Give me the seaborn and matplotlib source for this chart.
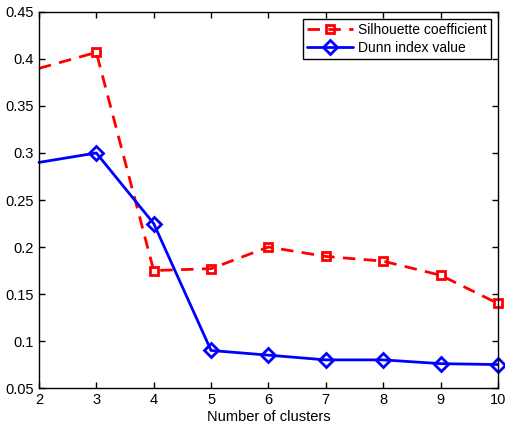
import numpy as np
import pandas as pd
import matplotlib
matplotlib.use("Agg")
import matplotlib.pyplot as plt
import seaborn as sns

# values
clusters = [2, 3, 4, 5, 6, 7, 8, 9, 10]
silhouette = [0.390, 0.407, 0.175, 0.177, 0.200, 0.190, 0.185, 0.170, 0.140]
dunn = [0.290, 0.300, 0.225, 0.090, 0.085, 0.080, 0.080, 0.076, 0.075]

df = pd.DataFrame({"k": clusters, "sil": silhouette, "dunn": dunn})

sns.set_style("ticks")
plt.rcParams["font.family"] = ["Liberation Sans", "DejaVu Sans"]
plt.rcParams["text.color"] = "black"
plt.rcParams["axes.labelcolor"] = "black"

fig = plt.figure(figsize=(5.06, 4.26), dpi=100)
ax = fig.add_axes([0.077, 0.089, 0.907, 0.883])

# first point sits on the axis edge and has no marker in the original
marks = list(range(1, len(clusters)))

sns.lineplot(data=df, x="k", y="sil", ax=ax, color="red", lw=2,
             linestyle="--", dashes=False, marker="s", markersize=6,
             markerfacecolor="none", markeredgecolor="red", markeredgewidth=2,
             markevery=marks, label="Silhouette coefficient")
ax.lines[-1].set_dashes([4.5, 3])
sns.lineplot(data=df, x="k", y="dunn", ax=ax, color="blue", lw=2,
             marker="D", markersize=7, markerfacecolor="none",
             markeredgecolor="blue", markeredgewidth=2,
             markevery=marks, label="Dunn index value")

for ln in ax.lines:
    ln.set_clip_on(False)

ax.set_xlim(2, 10)
ax.set_ylim(0.05, 0.45)
ax.set_xticks(clusters)
ax.set_yticks(np.arange(0.05, 0.451, 0.05))
ax.set_yticklabels(["0.05", "0.1", "0.15", "0.2", "0.25", "0.3", "0.35", "0.4", "0.45"])
ax.set_xlabel("Number of clusters", fontsize=10.5, labelpad=2, color="black")
ax.set_ylabel("")
ax.tick_params(direction="in", top=True, right=True, length=4, width=1,
               labelsize=10.5, colors="black")
for s in ax.spines.values():
    s.set_color("black")
    s.set_linewidth(1)

leg = ax.legend(loc="upper right", fontsize=10, fancybox=False, framealpha=1,
                edgecolor="black", borderaxespad=0.5, handlelength=3.3,
                borderpad=0.3, labelspacing=0.3, handletextpad=0.35)
leg.get_frame().set_linewidth(1)
for t in leg.get_texts():
    t.set_color("black")

fig.savefig("out.png", dpi=100)
